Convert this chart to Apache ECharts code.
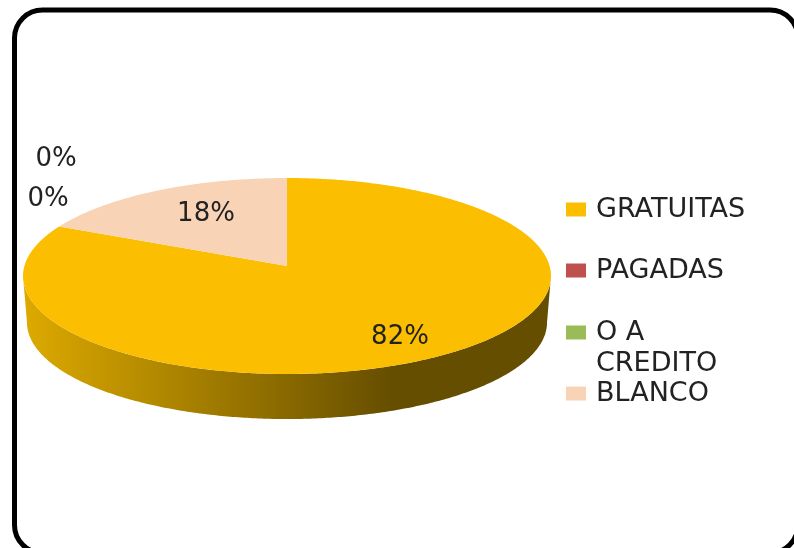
<!DOCTYPE html>
<html>
<head>
<meta charset="utf-8">
<style>html,body{margin:0;padding:0;background:#fff}#c{width:794px;height:548px}</style>
<script src="https://cdn.jsdelivr.net/npm/echarts@6/dist/echarts.min.js"></script>
</head>
<body>
<div id="c"></div>
<script>
const categories = ['GRATUITAS', 'PAGADAS', 'O A\nCREDITO', 'BLANCO'];
const values = [82, 0, 0, 18];

const colors = ['#FCBE00', '#C0504D', '#9BBB59', '#F9D3B6'];
const labelCenters = [[400, 337], [48, 199], [56, 159], [206, 214]];
const legendTops = [194, 255, 317, 378];
const FONT = '"DejaVu Sans"';
const TEXT = '#222222';

// perspective-projected disc
const P = { cx: 287, cy: 276, d: 262.6, a: 98, b: -10, c: 0.102, depth: 46.5, shrink: 0.985 };
function proj(theta, r, bottom) {
  const u = Math.sin(theta) * r, v = Math.cos(theta) * r;
  const w = 1 + P.c * v;
  const X = P.d * u / w, Y = (-P.a * v + P.b) / w;
  return bottom
    ? [P.cx + X * P.shrink, P.cy + Y * P.shrink + P.depth]
    : [P.cx + X, P.cy + Y];
}
const total = values.reduce((s, v) => s + v, 0);
function arc(a0, a1, r, bottom) {
  const n = Math.max(2, Math.ceil((a1 - a0) / 0.01));
  const pts = [];
  for (let i = 0; i <= n; i++) pts.push(proj(a0 + (a1 - a0) * i / n, r, bottom));
  return pts;
}
const wallFill = {
  type: 'linear', x: 27, y: 0, x2: 548, y2: 0, global: true,
  colorStops: [
    { offset: 0, color: '#DCA900' },
    { offset: 0.7, color: '#664E00' },
    { offset: 1, color: '#664E00' }
  ]
};
// the wall runs between the silhouette tangents of the disc
const WALL_MIN = Math.acos(-P.c), WALL_MAX = 2 * Math.PI - WALL_MIN;

function makeRender(index) {
  return function (params, api) {
    const value = api.value(0);
    let before = 0;
    for (let i = 0; i < index; i++) before += values[i];
    const a0 = before / total * 2 * Math.PI;
    const a1 = (before + value) / total * 2 * Math.PI;
    const children = [];
    if (value > 0) {
      const w0 = Math.max(a0, WALL_MIN), w1 = Math.min(a1, WALL_MAX);
      if (w1 > w0) {
        const pts = arc(w0, w1, 1, false).concat(arc(w0, w1, 1, true).reverse());
        children.push({ type: 'polygon', shape: { points: pts }, style: { fill: wallFill } });
      }
      const top = [proj(0, 0, false)].concat(arc(a0, a1, 1, false));
      children.push({ type: 'polygon', shape: { points: top }, style: { fill: colors[index] } });
    }
    children.push({
      type: 'text',
      z2: 10,
      style: {
        text: Math.round(value / total * 100) + '%',
        x: labelCenters[index][0], y: labelCenters[index][1],
        align: 'center', verticalAlign: 'middle',
        font: '26px ' + FONT, fill: TEXT
      }
    });
    return { type: 'group', children };
  };
}

const series = categories.map((name, i) => ({
  type: 'custom',
  name,
  coordinateSystem: 'none',
  silent: true,
  animation: false,
  z: i === 0 ? 2 : 3,
  itemStyle: { color: colors[i] },
  data: [[values[i]]],
  renderItem: makeRender(i)
}));

const legends = categories.map((name, i) => {
  const two = name.indexOf('\n') >= 0;
  return {
    left: 566,
    top: legendTops[i],
    padding: 0,
    orient: 'vertical',
    selectedMode: false,
    itemWidth: 20,
    itemHeight: two ? 45 : 14,
    itemGap: 0,
    data: [two
      ? { name, icon: 'path://M0 0H20V14H0Z M0 45L0.01 45L0 45Z' }
      : { name, icon: 'rect' }],
    textStyle: { fontFamily: FONT, fontSize: 27, color: TEXT, lineHeight: 31, padding: [0, 0, 0, 5] }
  };
});

const chart = echarts.init(document.getElementById('c'), null, { renderer: 'canvas' });
chart.setOption({
  backgroundColor: '#ffffff',
  animation: false,
  tooltip: { show: false },
  legend: legends,
  series,
  graphic: [{
    type: 'rect',
    silent: true,
    z: 0,
    shape: { x: 14.5, y: 10, width: 783.5, height: 543, r: 28 },
    style: { fill: 'none', stroke: '#000000', lineWidth: 5 }
  }]
});
</script>
</body>
</html>
